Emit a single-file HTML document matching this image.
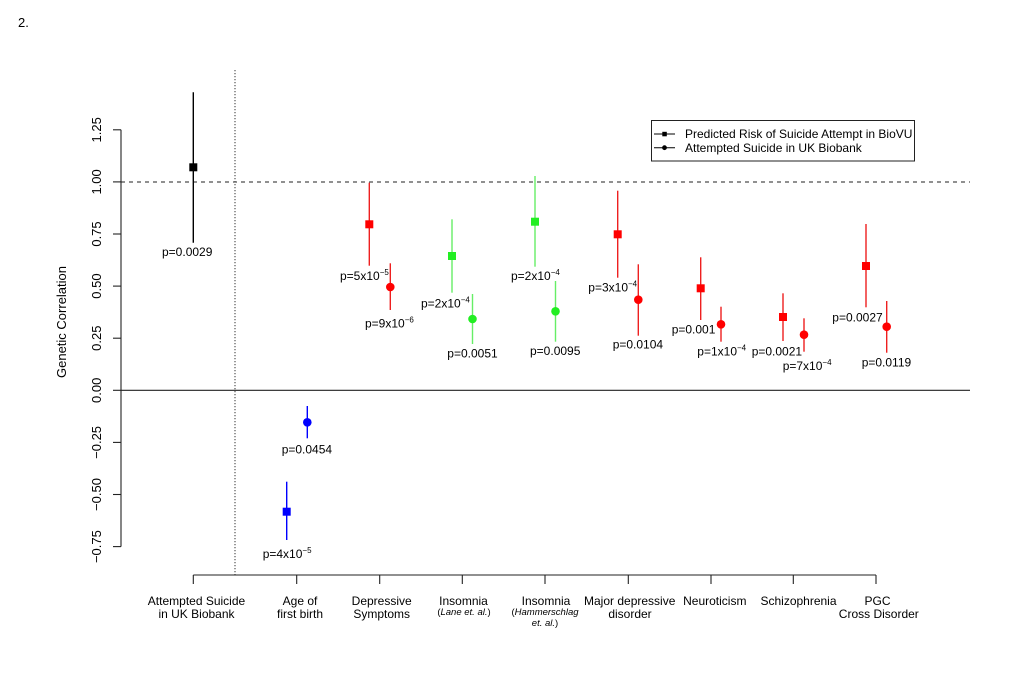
<!DOCTYPE html>
<html>
<head>
<meta charset="utf-8">
<style>
html,body{margin:0;padding:0;background:#fff;}
svg{display:block;}
text{font-family:"Liberation Sans",Arial,sans-serif;fill:#000;}
</style>
</head>
<body>
<svg width="1024" height="682" viewBox="0 0 1024 682" xmlns="http://www.w3.org/2000/svg">
<rect width="1024" height="682" fill="#fff"/>
<text x="18" y="27" font-size="13">2.</text>

<!-- reference lines -->
<line x1="121" y1="182" x2="970" y2="182" stroke="#222" stroke-width="1" stroke-dasharray="4,4"/>
<line x1="121" y1="390.3" x2="970" y2="390.3" stroke="#222" stroke-width="1.1"/>
<line x1="235" y1="70" x2="235" y2="575" stroke="#555" stroke-width="1.2" stroke-dasharray="1.2,1.8"/>

<!-- y axis -->
<g stroke="#222" stroke-width="1.1">
<line x1="121" y1="129.8" x2="121" y2="546.6"/>
<line x1="113" y1="129.8" x2="121" y2="129.8"/>
<line x1="113" y1="181.9" x2="121" y2="181.9"/>
<line x1="113" y1="234.0" x2="121" y2="234.0"/>
<line x1="113" y1="286.1" x2="121" y2="286.1"/>
<line x1="113" y1="338.2" x2="121" y2="338.2"/>
<line x1="113" y1="390.3" x2="121" y2="390.3"/>
<line x1="113" y1="442.4" x2="121" y2="442.4"/>
<line x1="113" y1="494.5" x2="121" y2="494.5"/>
<line x1="113" y1="546.6" x2="121" y2="546.6"/>
</g>
<g font-size="13" text-anchor="middle">
<text transform="translate(101,129.8) rotate(-90)">1.25</text>
<text transform="translate(101,181.9) rotate(-90)">1.00</text>
<text transform="translate(101,234.0) rotate(-90)">0.75</text>
<text transform="translate(101,286.1) rotate(-90)">0.50</text>
<text transform="translate(101,338.2) rotate(-90)">0.25</text>
<text transform="translate(101,390.3) rotate(-90)">0.00</text>
<text transform="translate(101,442.4) rotate(-90)">−0.25</text>
<text transform="translate(101,494.5) rotate(-90)">−0.50</text>
<text transform="translate(101,546.6) rotate(-90)">−0.75</text>
<text transform="translate(66,322) rotate(-90)">Genetic Correlation</text>
</g>

<!-- x axis -->
<g stroke="#222" stroke-width="1.1">
<line x1="193.3" y1="575" x2="876" y2="575"/>
<line x1="193.3" y1="575" x2="193.3" y2="584"/>
<line x1="296.7" y1="575" x2="296.7" y2="584"/>
<line x1="379.7" y1="575" x2="379.7" y2="584"/>
<line x1="462.3" y1="575" x2="462.3" y2="584"/>
<line x1="545" y1="575" x2="545" y2="584"/>
<line x1="628.3" y1="575" x2="628.3" y2="584"/>
<line x1="711" y1="575" x2="711" y2="584"/>
<line x1="793.3" y1="575" x2="793.3" y2="584"/>
<line x1="876" y1="575" x2="876" y2="584"/>
</g>
<g font-size="12" text-anchor="middle">
<text x="196.5" y="605">Attempted Suicide</text>
<text x="196.5" y="618">in UK Biobank</text>
<text x="300" y="605">Age of</text>
<text x="300" y="618">first birth</text>
<text x="381.7" y="605">Depressive</text>
<text x="381.7" y="618">Symptoms</text>
<text x="463.5" y="605">Insomnia</text>
<text x="464" y="615" font-size="9.5">(<tspan font-style="italic">Lane et. al.</tspan>)</text>
<text x="546" y="605">Insomnia</text>
<text x="545" y="615" font-size="9.5">(<tspan font-style="italic">Hammerschlag</tspan></text>
<text x="545" y="626" font-size="9.5"><tspan font-style="italic">et. al.</tspan>)</text>
<text x="629.7" y="605">Major depressive</text>
<text x="630" y="618">disorder</text>
<text x="714.8" y="605">Neuroticism</text>
<text x="798.5" y="605">Schizophrenia</text>
<text x="877.5" y="605">PGC</text>
<text x="878.8" y="618">Cross Disorder</text>
</g>

<!-- error bars -->
<g stroke-width="1.4">
<line x1="193.3" y1="92.3" x2="193.3" y2="242.7" stroke="#000"/>
<line x1="286.7" y1="481.7" x2="286.7" y2="540" stroke="#0000ff"/>
<line x1="307.3" y1="406" x2="307.3" y2="438.3" stroke="#0000ff"/>
<line x1="369.3" y1="182.7" x2="369.3" y2="265.7" stroke="#ee2020"/>
<line x1="390.3" y1="263.3" x2="390.3" y2="310" stroke="#ee2020"/>
<line x1="452" y1="219.3" x2="452" y2="292.7" stroke="#66ee66"/>
<line x1="472.5" y1="294" x2="472.5" y2="344" stroke="#66ee66"/>
<line x1="535" y1="176" x2="535" y2="266.7" stroke="#66ee66"/>
<line x1="555.5" y1="281" x2="555.5" y2="341.7" stroke="#66ee66"/>
<line x1="617.7" y1="190.7" x2="617.7" y2="277.7" stroke="#ee2020"/>
<line x1="638.3" y1="264.3" x2="638.3" y2="335.7" stroke="#ee2020"/>
<line x1="700.7" y1="257.3" x2="700.7" y2="320" stroke="#ee2020"/>
<line x1="721" y1="306.7" x2="721" y2="341.7" stroke="#ee2020"/>
<line x1="783" y1="293.3" x2="783" y2="341" stroke="#ee2020"/>
<line x1="804" y1="318.3" x2="804" y2="351.7" stroke="#ee2020"/>
<line x1="866" y1="224" x2="866" y2="307.3" stroke="#ee2020"/>
<line x1="886.7" y1="301" x2="886.7" y2="352.7" stroke="#ee2020"/>
</g>

<!-- markers -->
<rect x="189.3" y="163.3" width="8" height="8" fill="#000"/>
<rect x="282.7" y="507.7" width="8" height="8" fill="#0000ff"/>
<circle cx="307.3" cy="422.3" r="4.3" fill="#0000ff"/>
<rect x="365.3" y="220.3" width="8" height="8" fill="#ff0000"/>
<circle cx="390.3" cy="287" r="4.3" fill="#ff0000"/>
<rect x="448" y="252" width="8" height="8" fill="#22ee22"/>
<circle cx="472.5" cy="319" r="4.3" fill="#22ee22"/>
<rect x="531" y="217.7" width="8" height="8" fill="#22ee22"/>
<circle cx="555.5" cy="311.3" r="4.3" fill="#22ee22"/>
<rect x="613.7" y="230.3" width="8" height="8" fill="#ff0000"/>
<circle cx="638.3" cy="299.7" r="4.3" fill="#ff0000"/>
<rect x="696.7" y="284.3" width="8" height="8" fill="#ff0000"/>
<circle cx="721" cy="324.3" r="4.3" fill="#ff0000"/>
<rect x="779" y="313" width="8" height="8" fill="#ff0000"/>
<circle cx="804" cy="334.7" r="4.3" fill="#ff0000"/>
<rect x="862" y="262" width="8" height="8" fill="#ff0000"/>
<circle cx="886.7" cy="326.7" r="4.3" fill="#ff0000"/>

<!-- p-value labels -->
<g font-size="12">
<text x="162" y="256">p=0.0029</text>
<text x="262.7" y="558">p=4x10<tspan font-size="8" dy="-5">−5</tspan></text>
<text x="281.7" y="453.3">p=0.0454</text>
<text x="340" y="280">p=5x10<tspan font-size="8" dy="-5">−5</tspan></text>
<text x="365" y="327.3">p=9x10<tspan font-size="8" dy="-5">−6</tspan></text>
<text x="421" y="307.3">p=2x10<tspan font-size="8" dy="-5">−4</tspan></text>
<text x="447.3" y="357.3">p=0.0051</text>
<text x="511" y="280">p=2x10<tspan font-size="8" dy="-5">−4</tspan></text>
<text x="530" y="355">p=0.0095</text>
<text x="588.3" y="291.7">p=3x10<tspan font-size="8" dy="-5">−4</tspan></text>
<text x="612.7" y="348.3">p=0.0104</text>
<text x="671.7" y="333.3">p=0.001</text>
<text x="697.3" y="355.7">p=1x10<tspan font-size="8" dy="-5">−4</tspan></text>
<text x="751.7" y="355.7">p=0.0021</text>
<text x="782.7" y="370">p=7x10<tspan font-size="8" dy="-5">−4</tspan></text>
<text x="832.3" y="321.7">p=0.0027</text>
<text x="861.7" y="366.7">p=0.0119</text>
</g>

<!-- legend -->
<rect x="651.5" y="120.5" width="263" height="40.5" fill="#fff" stroke="#222" stroke-width="1"/>
<line x1="654" y1="134" x2="675" y2="134" stroke="#000" stroke-width="1"/>
<rect x="662.3" y="131.8" width="4.5" height="4.5" fill="#000"/>
<line x1="654" y1="147.7" x2="675" y2="147.7" stroke="#000" stroke-width="1"/>
<circle cx="664.5" cy="147.7" r="2.4" fill="#000"/>
<text x="685" y="138.2" font-size="12">Predicted Risk of Suicide Attempt in BioVU</text>
<text x="685" y="152" font-size="12">Attempted Suicide in UK Biobank</text>
</svg>
</body>
</html>
